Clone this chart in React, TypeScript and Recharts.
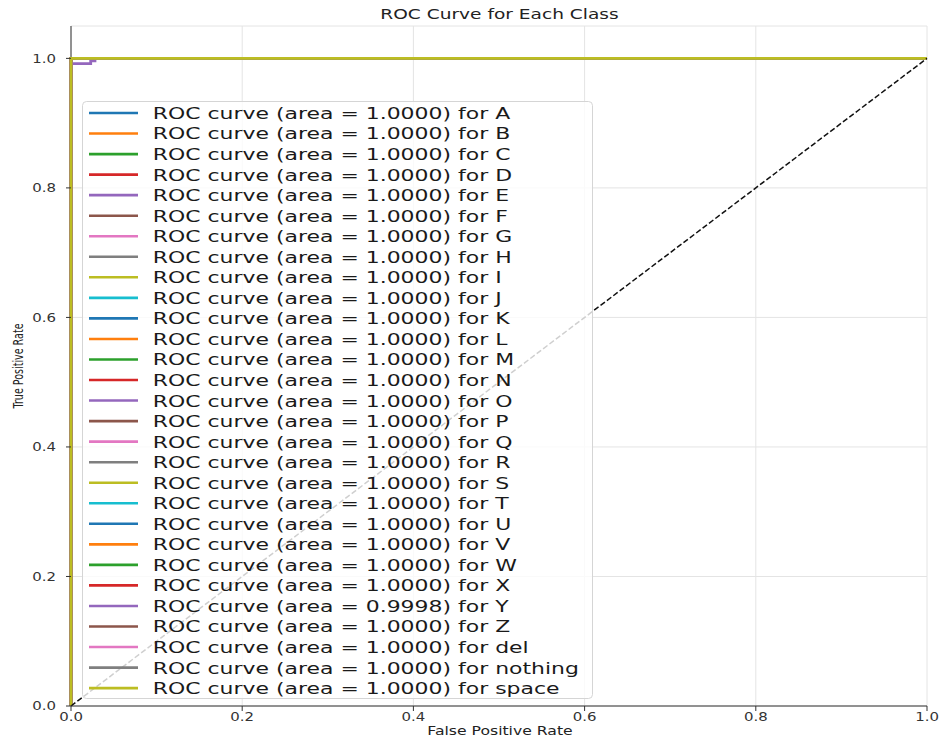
import React from "react";
import {
  LineChart,
  Line,
  XAxis,
  YAxis,
  CartesianGrid,
  Legend,
  Customized,
} from "recharts";

// classes in plotting order
const classNames = [
  "A", "B", "C", "D", "E", "F", "G", "H", "I", "J", "K", "L", "M",
  "N", "O", "P", "Q", "R", "S", "T", "U", "V", "W", "X", "Y", "Z",
  "del", "nothing", "space",
];

const aucValues = [
  1, 1, 1, 1, 1, 1, 1, 1, 1, 1, 1, 1, 1,
  1, 1, 1, 1, 1, 1, 1, 1, 1, 1, 1, 0.9998, 1,
  1, 1, 1,
];

// ROC points for a perfect classifier
const perfectFpr = [0, 0, 1];
const perfectTpr = [0, 1, 1];

// class Y has a tiny dip near the top-left
const classYFpr = [0, 0, 0.023, 0.023, 0.028, 0.028, 1];
const classYTpr = [0, 0.992, 0.992, 0.996, 0.996, 1, 1];

const chanceFpr = [0, 1];
const chanceTpr = [0, 1];

const xTicks = [0, 0.2, 0.4, 0.6, 0.8, 1.0];
const yTicks = [0, 0.2, 0.4, 0.6, 0.8, 1.0];
const yDomain = [0, 1.05];

const tab10 = [
  "#1f77b4", "#ff7f0e", "#2ca02c", "#d62728", "#9467bd",
  "#8c564b", "#e377c2", "#7f7f7f", "#bcbd22", "#17becf",
];

const toPoints = (xs: number[], ys: number[]) =>
  xs.map((x, i) => ({ x, y: ys[i] }));

const curves = classNames.map((name, i) => ({
  name,
  auc: aucValues[i],
  color: tab10[i % tab10.length],
  data: name === "Y" ? toPoints(classYFpr, classYTpr) : toPoints(perfectFpr, perfectTpr),
}));

// left spine, drawn as the first series so the curves sit on top of it
const spine = toPoints([0, 0], yDomain);

const SX = 1.3;
const FONT = "DejaVu Sans, sans-serif";

function XTick(props: any) {
  const { x, y, payload } = props;
  return (
    <text
      transform={`translate(${x},${y}) scale(${SX},1)`}
      textAnchor="middle"
      dy="0.71em"
      fontSize={11.5}
      fontFamily={FONT}
      fill="#333"
    >
      {Number(payload.value).toFixed(1)}
    </text>
  );
}

function YTick(props: any) {
  const { x, y, payload } = props;
  return (
    <text
      transform={`translate(${x},${y}) scale(${SX},1)`}
      textAnchor="end"
      dy="0.36em"
      fontSize={11.5}
      fontFamily={FONT}
      fill="#333"
    >
      {Number(payload.value).toFixed(1)}
    </text>
  );
}

function Texts() {
  return (
    <g fontFamily={FONT} fill="#222">
      <text
        transform={`translate(499.5,14) scale(1.29,1)`}
        textAnchor="middle"
        dominantBaseline="central"
        fontSize={14.4}
      >
        ROC Curve for Each Class
      </text>
      <text
        transform={`translate(500,731) scale(1.36,1)`}
        textAnchor="middle"
        dominantBaseline="central"
        fontSize={11.5}
      >
        False Positive Rate
      </text>
      <text
        transform={`translate(18,366) scale(1.3,1) rotate(-90)`}
        textAnchor="middle"
        dominantBaseline="central"
        fontSize={11.5}
        textLength={85}
        lengthAdjust="spacingAndGlyphs"
      >
        True Positive Rate
      </text>
    </g>
  );
}

function LegendBox() {
  const w = 511;
  const h = 598;
  return (
    <svg width={w} height={h} style={{ display: "block" }}>
      <rect
        x={0.5}
        y={0.5}
        width={w - 1}
        height={h - 1}
        rx={4}
        fill="#ffffff"
        fillOpacity={0.8}
        stroke="#d5d5d5"
      />
      {curves.map((c, i) => {
        const cy = 12 + i * 20.54;
        return (
          <g key={c.name}>
            <line x1={7} x2={56} y1={cy} y2={cy} stroke={c.color} strokeWidth={2.6} />
            <text
              transform={`translate(70.7,${cy}) scale(1.33,1)`}
              dy="0.36em"
              fontSize={16.5}
              fontFamily={FONT}
              fill="#1a1a1a"
            >
              {`ROC curve (area = ${c.auc.toFixed(4)}) for ${c.name}`}
            </text>
          </g>
        );
      })}
    </svg>
  );
}

export default function App() {
  return (
    <div style={{ position: "absolute", left: 0, top: 0, width: 940, height: 738, background: "#fff" }}>
      <LineChart
        width={940}
        height={738}
        margin={{ top: 26, right: 13, bottom: 0, left: 0 }}
      >
        <CartesianGrid stroke="#e4e4e4" strokeWidth={1} />
        <XAxis
          dataKey="x"
          type="number"
          domain={[0, 1]}
          ticks={xTicks}
          height={32}
          tickSize={5}
          tickMargin={2}
          stroke="#333"
          tick={<XTick />}
        />
        <YAxis
          dataKey="y"
          type="number"
          domain={yDomain}
          ticks={yTicks}
          width={71}
          tickSize={5}
          tickMargin={10}
          stroke="#333"
          axisLine={false}
          tick={<YTick />}
        />
        <Line
          data={spine}
          dataKey="y"
          name="spine"
          type="linear"
          stroke="#333"
          strokeWidth={1}
          dot={false}
          activeDot={false}
          isAnimationActive={false}
        />
        {curves.map((c) => (
          <Line
            key={c.name}
            data={c.data}
            dataKey="y"
            name={c.name}
            type="linear"
            stroke={c.color}
            strokeWidth={2.8}
            dot={false}
            activeDot={false}
            isAnimationActive={false}
          />
        ))}
        <Line
          data={toPoints(chanceFpr, chanceTpr)}
          dataKey="y"
          name="chance"
          type="linear"
          stroke="#111"
          strokeWidth={1.5}
          strokeDasharray="5.5 2.5"
          dot={false}
          activeDot={false}
          isAnimationActive={false}
        />
        <Customized component={<Texts />} />
        <Legend
          layout="vertical"
          align="center"
          verticalAlign="middle"
          wrapperStyle={{ position: "absolute", left: 82, top: 101, width: 511, height: 598 }}
          content={() => <LegendBox />}
        />
      </LineChart>
    </div>
  );
}
